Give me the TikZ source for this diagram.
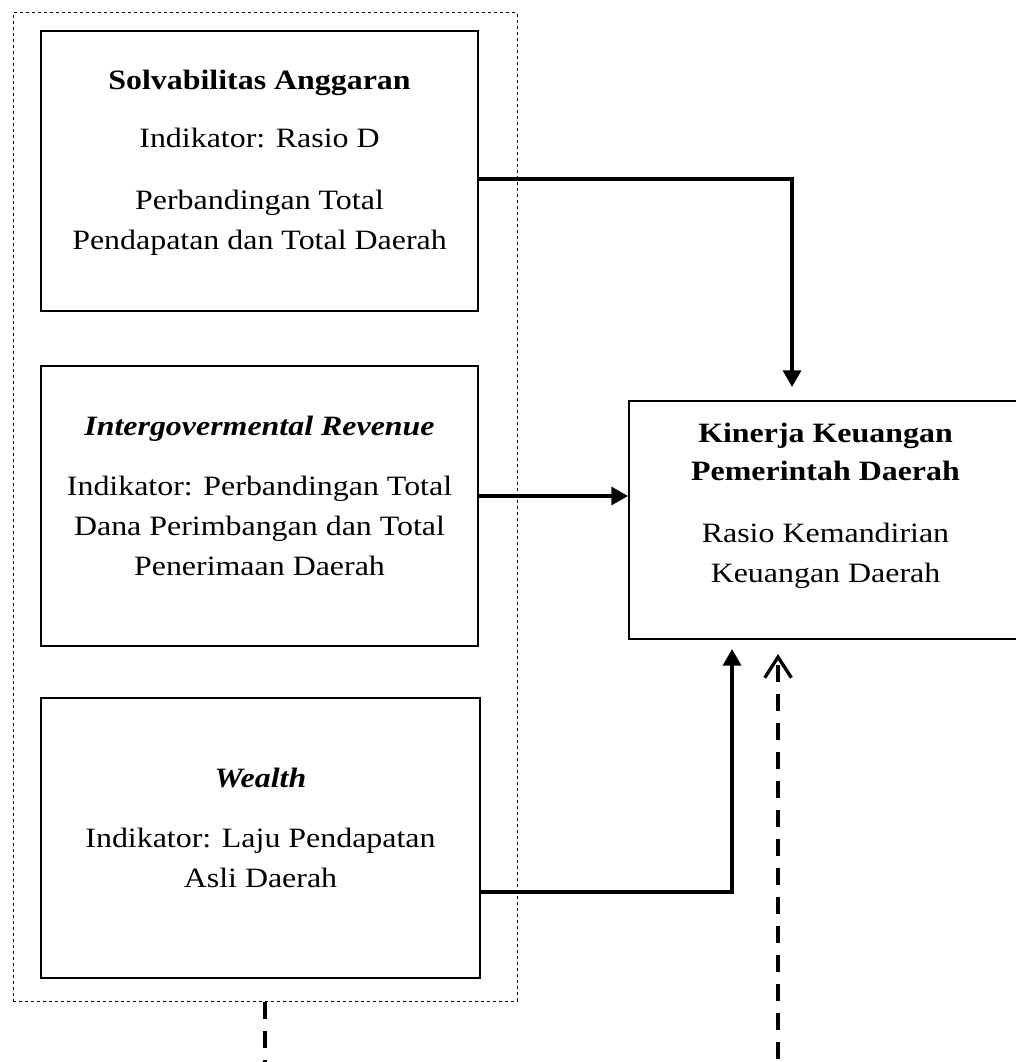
\documentclass[tikz,border=0pt]{standalone}
\usepackage{fontspec}
\setmainfont{Liberation Serif}[FakeStretch=1.14]
\usetikzlibrary{arrows.meta}

\tikzset{every picture/.style={line width=0.75pt}}
\tikzset{
  box/.style={draw, line width=1.5pt, minimum width=437*0.75pt, minimum height=280*0.75pt, inner sep=0pt},
  txt/.style={anchor=base, inner sep=0.75pt, font=\fontsize{21}{25}\selectfont},
  conn/.style={line width=2.5pt, -{Triangle[length=12.5pt,width=13.5pt]}},
}

\begin{document}
\begin{tikzpicture}[x=0.75pt,y=0.75pt,yscale=-1,xscale=1]
\useasboundingbox (0,0) rectangle (1015,1062);

%Dotted group frame
\node [draw, dash pattern=on 2.25pt off 2.25pt, minimum width=504*0.75pt, minimum height=988*0.75pt, inner sep=0pt] (grp) at (265,507) {};

%Boxes
\node [box] (solv) at (259.5,171) {};
\node [box] (intg) at (259.5,506) {};
\node [box, minimum width=439*0.75pt] (wlth) at (260.5,838) {};
\node [box, minimum width=393*0.75pt, minimum height=238*0.75pt] (kin) at (825.5,520) {};

% Text Node
\node [txt] (solvT) at (259.5,90) {\textbf{Solvabilitas Anggaran}};
\node [txt] (solvA) at (259.5,148) {Indikator: Rasio D};
\node [txt] (solvB) at (259.5,210) {Perbandingan Total};
\node [txt] (solvC) at (259.5,250) {Pendapatan dan Total Daerah};
% Text Node
\node [txt] (intgT) at (259.5,435) {\textbf{\textit{Intergovermental Revenue}}};
\node [txt] (intgA) at (259.5,495) {Indikator: Perbandingan Total};
\node [txt] (intgB) at (259.5,535) {Dana Perimbangan dan Total};
\node [txt] (intgC) at (259.5,575) {Penerimaan Daerah};
% Text Node
\node [txt] (wlthT) at (260.5,787) {\textbf{\textit{Wealth}}};
\node [txt] (wlthA) at (260.5,847) {Indikator: Laju Pendapatan};
\node [txt] (wlthB) at (260.5,887) {Asli Daerah};
% Text Node
\node [txt] (kinT1) at (825.5,442) {\textbf{Kinerja Keuangan}};
\node [txt] (kinT2) at (825.5,480) {\textbf{Pemerintah Daerah}};
\node [txt] (kinA) at (825.5,542) {Rasio Kemandirian};
\node [txt] (kinB) at (825.5,582) {Keuangan Daerah};

%Connectors
\draw [conn, shorten >=9.75pt] ([yshift=6pt]solv.east) -| ([xshift=-25.1pt]kin.north);
\draw [conn] ([yshift=-7.5pt]intg.east) -- ([yshift=-7.5pt]intg.east -| kin.west);
\draw [conn, shorten >=6.75pt] ([yshift=40.5pt]wlth.east) -| ([xshift=-70.1pt]kin.south);
\draw [line width=2.5pt, dash pattern=on 12.75pt off 9pt, shorten >=10.5pt, -{Straight Barb[length=15.5pt,width=20pt,line width=2.5pt]}] (grp.south) -- ++(0,62) -| ([xshift=-35.6pt]kin.south);

\end{tikzpicture}
\end{document}
